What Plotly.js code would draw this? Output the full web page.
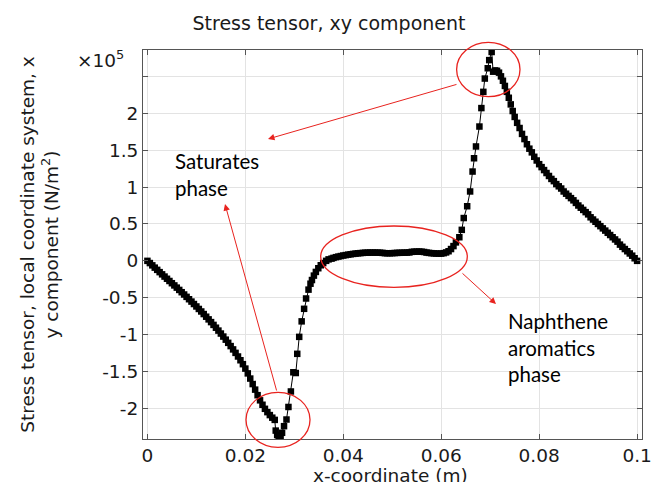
<!DOCTYPE html>
<html>
<head>
<meta charset="utf-8">
<script src="https://cdn.plot.ly/plotly-3.0.1.min.js"></script>
<style>
  html, body { margin: 0; padding: 0; background: #fff; }
  #plot { width: 651px; height: 482px; }
</style>
</head>
<body>
<div id="plot"></div>
<script>
// Shear stress (xy component) along the x-coordinate, values in units of 1e5 N/m^2.

// Saturates side: descending branch
const xSat = [0.0000, 0.0005, 0.0010, 0.0015, 0.0020, 0.0025, 0.0030, 0.0035, 0.0040, 0.0045,
              0.0050, 0.0055, 0.0060, 0.0065, 0.0070, 0.0075, 0.0080, 0.0085, 0.0090, 0.0095,
              0.0100, 0.0105, 0.0110, 0.0115, 0.0120, 0.0125, 0.0130, 0.0135, 0.0140, 0.0145,
              0.0150, 0.0155, 0.0160, 0.0165, 0.0170, 0.0175, 0.0180, 0.0185, 0.0190, 0.0195,
              0.0200, 0.0205, 0.0210, 0.0215, 0.0220, 0.0225, 0.0230, 0.0235, 0.0240, 0.0245,
              0.0250, 0.0255, 0.0260];
const sSat = [0.000, -0.030, -0.061, -0.092, -0.122, -0.153, -0.183, -0.213, -0.243, -0.273,
              -0.303, -0.333, -0.363, -0.394, -0.425, -0.456, -0.488, -0.520, -0.552, -0.585,
              -0.618, -0.652, -0.686, -0.721, -0.757, -0.793, -0.830, -0.868, -0.906, -0.945,
              -0.985, -1.026, -1.068, -1.111, -1.155, -1.200, -1.247, -1.296, -1.347, -1.400,
              -1.460, -1.525, -1.595, -1.670, -1.745, -1.820, -1.890, -1.950, -2.005, -2.050,
              -2.090, -2.125, -2.155];

// Interface minimum
const xDip = [0.0262, 0.0265, 0.0268, 0.0272, 0.0275, 0.0279];
const sDip = [-2.30, -2.36, -2.39, -2.38, -2.33, -2.24];

// Steep rise towards the middle layer
const xRise = [0.0284, 0.0288, 0.0293, 0.0298, 0.0303, 0.0306, 0.0310, 0.0315, 0.0320, 0.0324,
               0.0329, 0.0333, 0.0336, 0.0340, 0.0344, 0.0349, 0.0354, 0.0359, 0.0365, 0.0370,
               0.0376];
const sRise = [-2.15, -1.98, -1.77, -1.51, -1.52, -1.26, -1.03, -0.82, -0.65, -0.51,
               -0.39, -0.31, -0.26, -0.20, -0.15, -0.10, -0.06, -0.03, 0.00, 0.02,
               0.03];

// Naphthene aromatics plateau
const xPlat = [0.0380, 0.0385, 0.0390, 0.0395, 0.0400, 0.0405, 0.0410, 0.0415, 0.0420, 0.0425,
               0.0430, 0.0435, 0.0440, 0.0445, 0.0450, 0.0455, 0.0460, 0.0465, 0.0470, 0.0475,
               0.0480, 0.0485, 0.0490, 0.0495, 0.0500, 0.0505, 0.0510, 0.0515, 0.0520, 0.0525,
               0.0530, 0.0535, 0.0540, 0.0545, 0.0550, 0.0555, 0.0560, 0.0565, 0.0570, 0.0575,
               0.0580, 0.0585, 0.0590, 0.0595, 0.0600, 0.0605, 0.0610, 0.0615, 0.0620, 0.0625];
const sPlat = [0.040, 0.050, 0.058, 0.065, 0.072, 0.078, 0.084, 0.089, 0.094, 0.098,
               0.102, 0.105, 0.108, 0.110, 0.111, 0.112, 0.112, 0.112, 0.111, 0.110,
               0.108, 0.104, 0.103, 0.103, 0.104, 0.106, 0.108, 0.109, 0.110, 0.111,
               0.112, 0.114, 0.122, 0.124, 0.125, 0.126, 0.124, 0.120, 0.112, 0.108,
               0.104, 0.101, 0.099, 0.098, 0.098, 0.104, 0.114, 0.130, 0.160, 0.200];

// Rise to the peak
const xPeak = [0.0630, 0.0637, 0.0642, 0.0646, 0.0653, 0.0659, 0.0664, 0.0667, 0.0671, 0.0678,
               0.0682, 0.0686, 0.0689, 0.0695, 0.0698, 0.0703];
const sPeak = [0.25, 0.32, 0.42, 0.58, 0.74, 0.94, 1.21, 1.39, 1.55, 1.82,
               2.07, 2.29, 2.47, 2.61, 2.72, 2.83];

// Decay towards the right boundary
const xDecay = [0.0706, 0.0710, 0.0714, 0.0718, 0.0722, 0.0726, 0.0730, 0.0734, 0.0738, 0.0742,
                0.0746, 0.0750, 0.0755, 0.0760, 0.0765, 0.0770, 0.0775, 0.0780, 0.0785, 0.0790,
                0.0795, 0.0800, 0.0805, 0.0810, 0.0815, 0.0820, 0.0825, 0.0830, 0.0835, 0.0840,
                0.0845, 0.0850, 0.0855, 0.0860, 0.0865, 0.0870, 0.0875, 0.0880, 0.0885, 0.0890,
                0.0895, 0.0900, 0.0905, 0.0910, 0.0915, 0.0920, 0.0925, 0.0930, 0.0935, 0.0940,
                0.0945, 0.0950, 0.0955, 0.0960, 0.0965, 0.0970, 0.0975, 0.0980, 0.0985, 0.0990,
                0.0995, 0.1000];
const sDecay = [2.563, 2.580, 2.575, 2.550, 2.500, 2.440, 2.370, 2.290, 2.210, 2.120,
                2.030, 1.950, 1.870, 1.800, 1.720, 1.650, 1.580, 1.520, 1.470, 1.410,
                1.360, 1.310, 1.270, 1.230, 1.190, 1.150, 1.110, 1.080, 1.040, 1.010,
                0.980, 0.940, 0.910, 0.880, 0.850, 0.820, 0.785, 0.750, 0.720, 0.690,
                0.660, 0.630, 0.590, 0.560, 0.530, 0.500, 0.470, 0.440, 0.410, 0.380,
                0.350, 0.320, 0.290, 0.260, 0.220, 0.190, 0.160, 0.130, 0.100, 0.070,
                0.035, 0.000];

// Axis ticks
const xTickVals = [0, 0.02, 0.04, 0.06, 0.08, 0.1];
const xTickText = ['0', '0.02', '0.04', '0.06', '0.08', '0.1'];
const yTickVals = [-2, -1.5, -1, -0.5, 0, 0.5, 1, 1.5, 2, 2.5];
const yTickText = ['-2', '-1.5', '-1', '-0.5', '0', '0.5', '1', '1.5', '2', ' '];

const xs = [].concat(xSat, xDip, xRise, xPlat, xPeak, xDecay);
const ys = [].concat(sSat, sDip, sRise, sPlat, sPeak, sDecay);

const FONT = 'DejaVu Sans, sans-serif';
const NOTE_FONT = 'Lato, "Open Sans", sans-serif';
const TXT = '#1a1a1a';
const RED = '#e8231f';

const trace = {
  x: xs,
  y: ys,
  type: 'scatter',
  mode: 'lines+markers',
  line: { color: '#000', width: 1 },
  marker: { symbol: 'square', size: 6.5, color: '#000' },
  hoverinfo: 'skip'
};

const axisCommon = {
  showline: true,
  linecolor: '#555',
  linewidth: 1,
  mirror: 'ticks',
  ticks: 'inside',
  ticklen: 5,
  tickcolor: '#555',
  showgrid: true,
  gridcolor: '#e3e3e3',
  gridwidth: 1,
  zeroline: false,
  ticklabeloverflow: 'allow',
  tickfont: { family: FONT, size: 18.5, color: TXT },
  tickmode: 'array'
};

const layout = {
  width: 651,
  height: 482,
  margin: { l: 143, r: 9, t: 50, b: 43 },
  paper_bgcolor: '#fff',
  plot_bgcolor: '#fff',
  showlegend: false,
  title: {
    text: 'Stress tensor, xy component',
    font: { family: FONT, size: 19, color: TXT },
    x: 0.5054, xanchor: 'center',
    y: 0.952, yanchor: 'middle', yref: 'container'
  },
  xaxis: Object.assign({}, axisCommon, {
    range: [-0.0009, 0.101],
    tickvals: xTickVals,
    ticktext: xTickText
  }),
  yaxis: Object.assign({}, axisCommon, {
    range: [-2.414, 2.857],
    tickvals: yTickVals,
    ticktext: yTickText,
    title: {
      text: 'Stress tensor, local coordinate system, x<br>y component (N/m<sup>2</sup>)',
      font: { family: FONT, size: 18.5, color: TXT },
      standoff: 38
    }
  }),
  shapes: [
    // peak
    { type: 'circle', xref: 'paper', yref: 'paper', x0: 0.6285, x1: 0.7555, y0: 0.880, y1: 1.0198,
      line: { color: RED, width: 1.3 } },
    // plateau
    { type: 'circle', xref: 'paper', yref: 'paper', x0: 0.3561, x1: 0.6499, y0: 0.390, y1: 0.5476,
      line: { color: RED, width: 1.3 } },
    // minimum
    { type: 'circle', xref: 'paper', yref: 'paper', x0: 0.2064, x1: 0.3347, y0: -0.0213, y1: 0.120,
      line: { color: RED, width: 1.3 } }
  ],
  annotations: [
    // x-axis title, sitting low at the bottom edge
    { text: 'x-coordinate (m)', xref: 'paper', yref: 'paper', x: 0.4965, y: -0.095,
      xanchor: 'center', yanchor: 'middle', showarrow: false,
      font: { family: FONT, size: 18.5, color: TXT } },
    { text: '×10<sup>5</sup>', xref: 'paper', yref: 'paper', x: -0.136, y: 0.977,
      xanchor: 'left', yanchor: 'middle', showarrow: false,
      font: { family: FONT, size: 18.5, color: TXT } },
    { text: 'Saturates<br>phase', xref: 'paper', yref: 'paper', x: 0.0607, y: 0.681,
      xanchor: 'left', yanchor: 'middle', align: 'left', showarrow: false,
      font: { family: NOTE_FONT, size: 20.5, color: '#000' } },
    { text: 'Naphthene<br>aromatics<br>phase', xref: 'paper', yref: 'paper', x: 0.727, y: 0.234,
      xanchor: 'left', yanchor: 'middle', align: 'left', showarrow: false,
      font: { family: NOTE_FONT, size: 20.5, color: '#000' } },
    // arrows
    { text: '', xref: 'paper', yref: 'paper', x: 0.2505, y: 0.7712, ax: 190, ay: -55,
      showarrow: true, arrowhead: 2, arrowsize: 1.3, arrowwidth: 1, arrowcolor: RED, standoff: 0 },
    { text: '', xref: 'paper', yref: 'paper', x: 0.1643, y: 0.6041, ax: 52, ay: 188,
      showarrow: true, arrowhead: 2, arrowsize: 1.3, arrowwidth: 1, arrowcolor: RED, standoff: 0 },
    { text: '', xref: 'paper', yref: 'paper', x: 0.7074, y: 0.347, ax: -35, ay: -32,
      showarrow: true, arrowhead: 2, arrowsize: 1.3, arrowwidth: 1, arrowcolor: RED, standoff: 0 }
  ]
};

Plotly.newPlot('plot', [trace], layout, { staticPlot: true, displayModeBar: false });
</script>
</body>
</html>
